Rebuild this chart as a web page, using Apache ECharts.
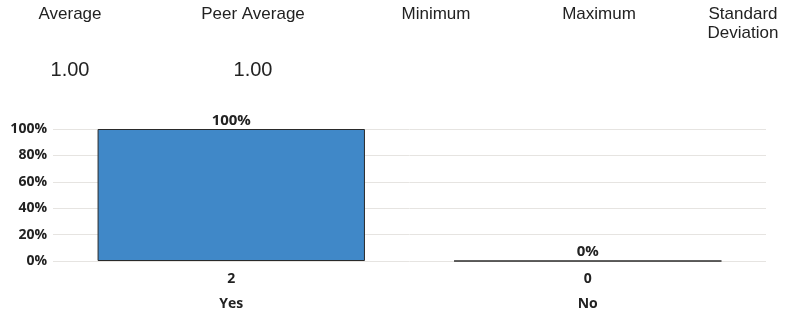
<!DOCTYPE html>
<html><head><meta charset="utf-8">
<script src="https://cdn.jsdelivr.net/npm/echarts@6/dist/echarts.min.js"></script>
<style>html,body{margin:0;padding:0;background:#fff}#c{width:795px;height:315px}</style>
</head><body><div id="c"></div>
<script>
const categories = ['Yes', 'No'];
const counts = [2, 0];
const percents = [100, 0];
const yTicks = [0, 20, 40, 60, 80, 100];
const statNames = ['Average', 'Peer Average', 'Minimum', 'Maximum', 'Standard\nDeviation'];
const statValues = ['1.00', '1.00', '', '', ''];
const statX = [70, 253, 436, 599, 743];

const chart = echarts.init(document.getElementById('c'), null, {renderer: 'canvas'});
const titles = [];
statNames.forEach((n, i) => {
  titles.push({text: n, left: statX[i], top: 5, padding: 0, textAlign: 'center',
    textStyle: {fontFamily: 'Liberation Sans', fontSize: 17, fontWeight: 'normal', color: '#222', lineHeight: 19}});
  if (statValues[i]) titles.push({text: statValues[i], left: statX[i], top: 60, padding: 0, textAlign: 'center',
    textStyle: {fontFamily: 'Liberation Sans', fontSize: 20, fontWeight: 'normal', color: '#222'}});
});
chart.setOption({
  animation: false,
  title: titles,
  grid: {left: 53, right: 29, top: 129, bottom: 54, containLabel: false},
  xAxis: {type: 'category', data: categories,
    axisLine: {show: false}, axisTick: {show: false},
    axisLabel: {margin: 6, interval: 0,
      formatter: (v, i) => '{c|' + counts[i] + '}\n{n|' + v + '}',
      rich: {
        c: {fontFamily: 'Open Sans', fontWeight: 'bold', fontSize: 14, color: '#222', lineHeight: 25},
        n: {fontFamily: 'Open Sans', fontWeight: 'bold', fontSize: 14, color: '#222', lineHeight: 25}
      }}},
  yAxis: {type: 'value', min: 0, max: 100, interval: 20,
    axisLine: {show: false}, axisTick: {show: false},
    splitLine: {lineStyle: {color: '#e6e4e1', width: 1}},
    axisLabel: {formatter: v => yTicks.includes(v) ? v + '%' : '', margin: 6,
      fontFamily: 'Open Sans', fontWeight: 'bold', fontSize: 14, color: '#222'}},
  series: [{type: 'bar', data: percents, barWidth: '75%',
    itemStyle: {color: '#4088c8', borderColor: '#2a2a2a', borderWidth: 1},
    label: {show: true, position: 'top', distance: 1, formatter: p => p.value + '%',
      fontFamily: 'Open Sans', fontWeight: 'bold', fontSize: 15, color: '#222'}}]
});
</script></body></html>
